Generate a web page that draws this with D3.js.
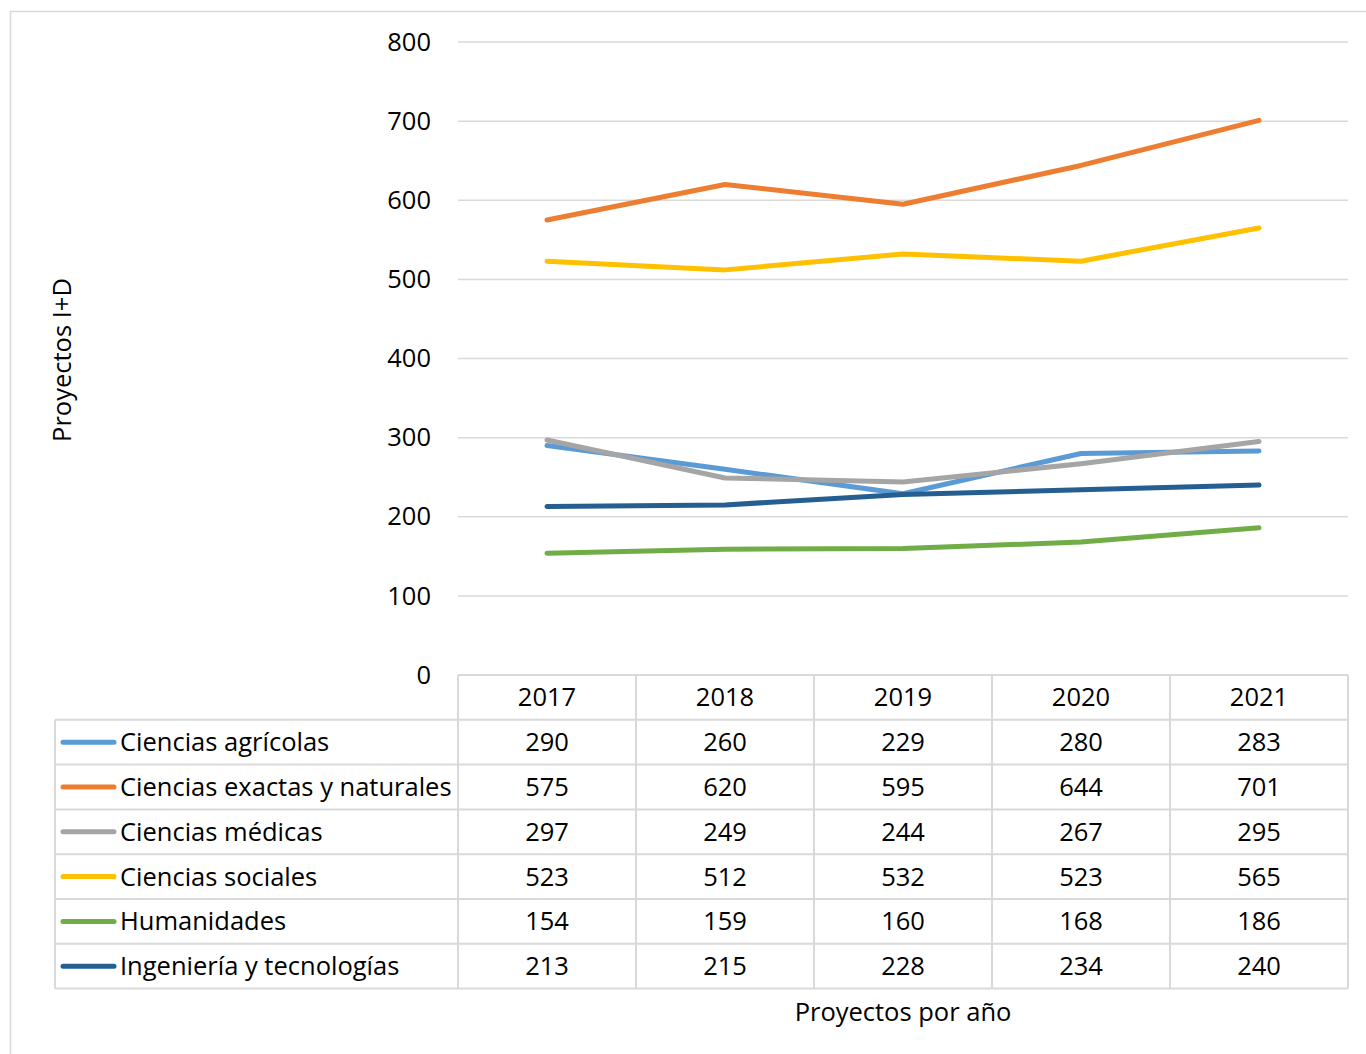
<!DOCTYPE html>
<html><head><meta charset="utf-8">
<script src="https://cdn.jsdelivr.net/npm/d3@7"></script>
<style>
html,body{margin:0;padding:0;background:#fff;}
svg{display:block;font-family:"Open Sans","Lato",sans-serif;}
</style></head>
<body>
<svg id="c" width="1366" height="1054"></svg>
<script>
const years = ["2017","2018","2019","2020","2021"];
const seriesNames = ["Ciencias agrícolas","Ciencias exactas y naturales","Ciencias médicas","Ciencias sociales","Humanidades","Ingeniería y tecnologías"];
const agricolas = [290,260,229,280,283];
const exactas = [575,620,595,644,701];
const medicas = [297,249,244,267,295];
const sociales = [523,512,532,523,565];
const humanidades = [154,159,160,168,186];
const ingenieria = [213,215,228,234,240];
const yTicks = [0,100,200,300,400,500,600,700,800];
const colors = ["#5B9BD5","#ED7D31","#A5A5A5","#FFC000","#70AD47","#255E91"];
const yTitle = "Proyectos I+D";
const xTitle = "Proyectos por año";

(function(){
const values = [agricolas, exactas, medicas, sociales, humanidades, ingenieria];
const svg = d3.select("#c");
const fs = 25.5;
const pL = 458, pR = 1348, pT = 42, pB = 675;
const rowH = 44.8;
const tableLeft = 55;

svg.append("rect").attr("x",10.5).attr("y",11.5).attr("width",1400).attr("height",1100)
  .attr("fill","none").attr("stroke","#d9d9d9").attr("stroke-width",1.5);

const x = d3.scaleBand().domain(years).range([pL,pR]);
const y = d3.scaleLinear().domain([0,800]).range([pB,pT]);

svg.append("g").selectAll("line").data(yTicks.filter(d=>d>0)).join("line")
  .attr("x1",pL).attr("x2",pR).attr("y1",d=>y(d)).attr("y2",d=>y(d))
  .attr("stroke","#d9d9d9").attr("stroke-width",1.5);

const yAxis = d3.axisLeft(y).tickValues(yTicks).tickSize(0).tickPadding(27);
const ya = svg.append("g").attr("transform",`translate(${pL},0)`).call(yAxis);
ya.attr("font-family",null).attr("font-size",null);
ya.select(".domain").remove();
ya.selectAll("text").attr("font-size",fs).attr("fill","#000");

const line = d3.line().x((d,i)=>x(years[i])+x.bandwidth()/2).y(d=>y(d));
svg.append("g").selectAll("path").data(values).join("path")
  .attr("d",line).attr("fill","none").attr("stroke",(d,i)=>colors[i])
  .attr("stroke-width",5).attr("stroke-linecap","round").attr("stroke-linejoin","round");

const tb = svg.append("g");
const gridC = "#d9d9d9";
const nRows = seriesNames.length;
const tableBottom = pB + rowH*(nRows+1);
tb.append("line").attr("x1",pL).attr("x2",pR).attr("y1",pB).attr("y2",pB).attr("stroke",gridC).attr("stroke-width",2);
for(let r=1;r<=nRows+1;r++){
  tb.append("line").attr("x1",tableLeft).attr("x2",pR).attr("y1",pB+r*rowH).attr("y2",pB+r*rowH).attr("stroke",gridC).attr("stroke-width",2);
}
tb.append("line").attr("x1",tableLeft).attr("x2",tableLeft).attr("y1",pB+rowH).attr("y2",tableBottom).attr("stroke",gridC).attr("stroke-width",2);
years.forEach(yr=>{
  tb.append("line").attr("x1",x(yr)).attr("x2",x(yr)).attr("y1",pB).attr("y2",tableBottom).attr("stroke",gridC).attr("stroke-width",2);
});
tb.append("line").attr("x1",pR).attr("x2",pR).attr("y1",pB).attr("y2",tableBottom).attr("stroke",gridC).attr("stroke-width",2);

tb.selectAll("text.hdr").data(years).join("text").attr("class","hdr")
  .attr("x",d=>x(d)+x.bandwidth()/2).attr("y",pB+rowH/2)
  .attr("dy","0.35em").attr("text-anchor","middle").attr("font-size",fs).text(d=>d);

seriesNames.forEach((name,i)=>{
  const cy = pB + rowH*(i+1) + rowH/2;
  tb.append("line").attr("x1",63).attr("x2",114).attr("y1",cy).attr("y2",cy)
    .attr("stroke",colors[i]).attr("stroke-width",5).attr("stroke-linecap","round");
  tb.append("text").attr("x",120).attr("y",cy).attr("dy","0.35em").attr("font-size",fs).text(name);
  values[i].forEach((v,j)=>{
    tb.append("text").attr("x",x(years[j])+x.bandwidth()/2).attr("y",cy).attr("dy","0.35em")
      .attr("text-anchor","middle").attr("font-size",fs).text(v);
  });
});

svg.append("text").attr("x",(pL+pR)/2).attr("y",1012).attr("dy","0.35em")
  .attr("text-anchor","middle").attr("font-size",fs).text(xTitle);
svg.append("text").attr("transform","translate(62,360) rotate(-90)").attr("dy","0.35em")
  .attr("text-anchor","middle").attr("font-size",fs).text(yTitle);
})();
</script>
</body></html>
